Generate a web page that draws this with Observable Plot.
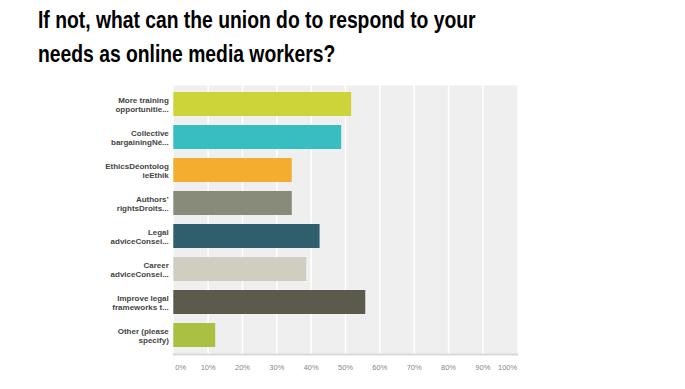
<!DOCTYPE html>
<html>
<head>
<meta charset="utf-8">
<script src="https://cdn.jsdelivr.net/npm/d3@7"></script>
<script src="https://cdn.jsdelivr.net/npm/@observablehq/plot@0.6"></script>
<style>
  html, body { margin: 0; padding: 0; background: #fff; }
  #titlewrap { height: 78px; overflow: hidden; }
  #title {
    box-sizing: border-box;
    padding: 2.7px 0 0 38px;
    font-family: "Liberation Sans", Arial, sans-serif;
    font-weight: bold;
    font-size: 24.5px;
    line-height: 34px;
    color: #000;
    white-space: nowrap;
    transform: scaleX(0.788);
    transform-origin: 38px 0;
    display: inline-block;
  }
  #chart svg { display: block; }
</style>
</head>
<body>
<div id="titlewrap"><div id="title">If not, what can the union do to respond to your<br>needs as online media workers?</div></div>
<div id="chart"></div>
<script>
const categories = [
  "More training\nopportunitie...",
  "Collective\nbargainingNé...",
  "EthicsDéontolog\nieEthik",
  "Authors’\nrightsDroits...",
  "Legal\nadviceConsei...",
  "Career\nadviceConsei...",
  "Improve legal\nframeworks t...",
  "Other (please\nspecify)"
];
const values = [51.8, 48.9, 34.5, 34.5, 42.6, 38.7, 55.9, 12.2];
const colors = ["#cdd43a", "#37bec0", "#f5ad30", "#888a7a", "#2f5f6c", "#d0cec1", "#5c5a4c", "#a9c043"];
const xTicks = [0, 10, 20, 30, 40, 50, 60, 70, 80, 90, 100];

const data = categories.map((c, i) => ({label: c, value: values[i]}));
const inner = xTicks.filter(t => t > 0 && t < 100);

const chart = Plot.plot({
  width: 685,
  height: 311,
  marginLeft: 173.3,
  marginRight: 168.3,
  marginTop: 7,
  marginBottom: 35,
  style: {fontFamily: "'Liberation Sans', Arial, sans-serif", background: "transparent"},
  x: {domain: [0, 100], axis: null},
  y: {domain: categories, paddingInner: 0.28, paddingOuter: 0.13, axis: null},
  color: {domain: categories, range: colors},
  marks: [
    Plot.frame({fill: "#efefef", stroke: null}),
    Plot.ruleX(inner, {x: d => d, stroke: "#ffffff", strokeWidth: 1.5}),
    Plot.frame({anchor: "bottom", stroke: "#d9d9d9", strokeWidth: 2}),
    Plot.barX(data, {x: "value", y: "label", fill: "label"}),
    Plot.axisY({tickSize: 0, tickPadding: 5, fontSize: 8, fontWeight: "bold", fill: "#444", lineHeight: 1.15, label: null}),
    Plot.text(inner, {x: d => d, frameAnchor: "bottom", dy: 15, text: d => d + "%", fontSize: 7.5, fill: "#888", textAnchor: "middle"}),
    Plot.text([xTicks[0]], {x: d => d, frameAnchor: "bottom", dy: 15, dx: 1.5, text: d => d + "%", fontSize: 7.5, fill: "#888", textAnchor: "start"}),
    Plot.text([xTicks[xTicks.length - 1]], {x: d => d, frameAnchor: "bottom", dy: 15, text: d => d + "%", fontSize: 7.5, fill: "#888", textAnchor: "end"})
  ]
});
document.getElementById("chart").appendChild(chart);
</script>
</body>
</html>
